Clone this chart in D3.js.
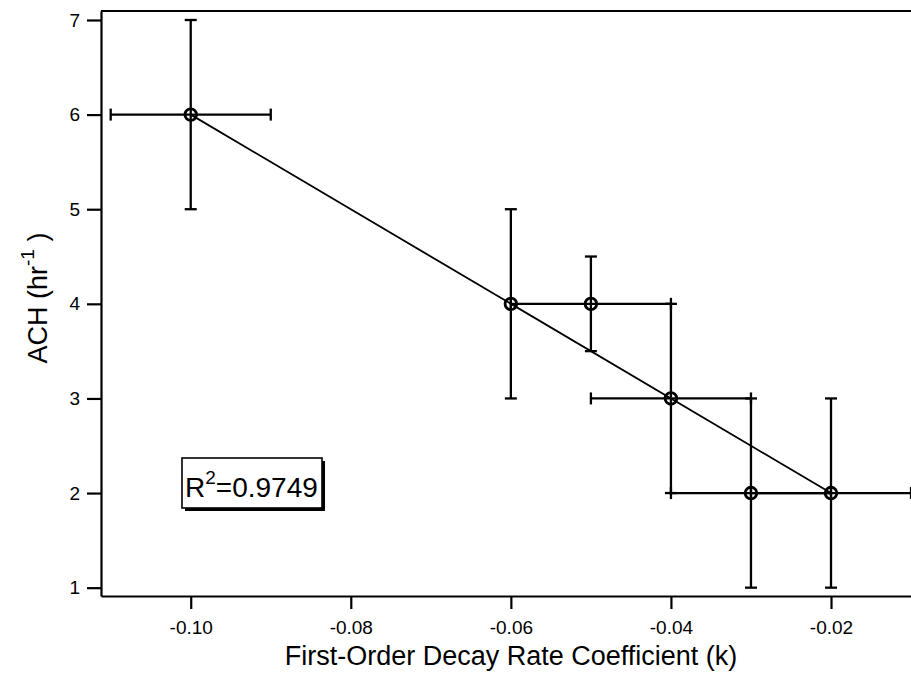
<!DOCTYPE html>
<html>
<head>
<meta charset="utf-8">
<script src="https://cdn.jsdelivr.net/npm/d3@7"></script>
<style>
  html, body { margin: 0; padding: 0; background: #fff; }
  svg { display: block; font-family: Arial, "Liberation Sans", sans-serif; }
</style>
</head>
<body>
<svg id="chart" width="911" height="675"></svg>
<script>
// ---- data ----
const kValues   = [-0.10, -0.06, -0.05, -0.04, -0.03, -0.02];
const achValues = [6, 4, 4, 3, 2, 2];
const kErrors   = [0.01, 0, 0.01, 0.01, 0.01, 0.01];
const achErrors = [1, 1, 0.5, 1, 1, 1];
const fitK      = [-0.10, -0.02];
const fitACH    = [6, 2];
const xTicks    = [-0.10, -0.08, -0.06, -0.04, -0.02];
const yTicks    = [1, 2, 3, 4, 5, 6, 7];
const r2Label   = "0.9749";
const xTitle    = "First-Order Decay Rate Coefficient (k)";

const svg = d3.select("#chart");
const pLeft = 101, pRight = 911, pTop = 11, pBottom = 596;

const x = d3.scaleLinear().domain([-0.11121, -0.010005]).range([pLeft, pRight]);
const y = d3.scaleLinear().domain([0.912, 7.095]).range([pBottom, pTop]);

// top frame line
svg.append("line")
  .attr("x1", pLeft).attr("x2", pRight + 2)
  .attr("y1", pTop).attr("y2", pTop)
  .attr("stroke", "#000").attr("stroke-width", 2.2);

// axes
const yAxis = svg.append("g")
  .attr("transform", `translate(${pLeft},0)`)
  .call(d3.axisLeft(y).tickValues(yTicks).tickFormat(d3.format("d"))
        .tickSize(14).tickSizeOuter(0).tickPadding(7));
const xAxis = svg.append("g")
  .attr("transform", `translate(0,${pBottom})`)
  .call(d3.axisBottom(x).tickValues(xTicks).tickFormat(d3.format(".2f"))
        .tickSize(13).tickSizeOuter(0).tickPadding(12));

[yAxis, xAxis].forEach(g => {
  g.select(".domain").attr("stroke", "#000").attr("stroke-width", 2.2);
  g.selectAll(".tick line").attr("stroke", "#000").attr("stroke-width", 2.2);
  g.selectAll(".tick text")
    .attr("fill", "#000")
    .style("font-size", "19px")
    .style("font-family", "Arial, 'Liberation Sans', sans-serif");
});
xAxis.selectAll(".tick text").text(d => d3.format(".2f")(d).replace("−", "-"));

// axis titles
svg.append("text")
  .attr("x", (pLeft + pRight) / 2 + 5).attr("y", 665)
  .attr("text-anchor", "middle")
  .style("font-size", "27px")
  .text(xTitle);

const yt = svg.append("text")
  .attr("transform", "translate(47,298) rotate(-90)")
  .attr("text-anchor", "middle")
  .style("font-size", "27px");
yt.append("tspan").text("ACH (hr");
yt.append("tspan").attr("dy", -13).style("font-size", "19px").text("-1");
yt.append("tspan").attr("dy", 13).text(" )");

// data
const pts = kValues.map((k, i) => ({k, a: achValues[i], ek: kErrors[i], ea: achErrors[i]}));
const cap = 6;
const eb = svg.append("g").attr("stroke", "#000").attr("stroke-width", 2.3).attr("fill", "none");

pts.forEach(p => {
  if (p.ea > 0) {
    eb.append("line").attr("x1", x(p.k)).attr("x2", x(p.k))
      .attr("y1", y(p.a - p.ea)).attr("y2", y(p.a + p.ea));
    [p.a - p.ea, p.a + p.ea].forEach(v => {
      eb.append("line").attr("x1", x(p.k) - cap).attr("x2", x(p.k) + cap)
        .attr("y1", y(v)).attr("y2", y(v));
    });
  }
  if (p.ek > 0) {
    eb.append("line").attr("x1", x(p.k - p.ek)).attr("x2", x(p.k + p.ek))
      .attr("y1", y(p.a)).attr("y2", y(p.a));
    [p.k - p.ek, p.k + p.ek].forEach(v => {
      eb.append("line").attr("x1", x(v)).attr("x2", x(v))
        .attr("y1", y(p.a) - cap).attr("y2", y(p.a) + cap);
    });
  }
});

// fit line
svg.append("path")
  .datum(fitK.map((k, i) => [k, fitACH[i]]))
  .attr("fill", "none").attr("stroke", "#000").attr("stroke-width", 1.8)
  .attr("d", d3.line().x(d => x(d[0])).y(d => y(d[1])));

// markers
svg.append("g").selectAll("circle").data(pts).join("circle")
  .attr("cx", d => x(d.k)).attr("cy", d => y(d.a)).attr("r", 5.8)
  .attr("fill", "none").attr("stroke", "#000").attr("stroke-width", 2.8);

// R^2 box
const bx = 182, by = 458, bw = 140, bh = 50;
svg.append("rect").attr("x", bx + 3).attr("y", by + 3).attr("width", bw).attr("height", bh)
  .attr("fill", "#000");
svg.append("rect").attr("x", bx).attr("y", by).attr("width", bw).attr("height", bh)
  .attr("fill", "#fff").attr("stroke", "#000").attr("stroke-width", 1.6);
const rt = svg.append("text").attr("x", bx + 3).attr("y", by + 39)
  .style("font-size", "28px");
rt.append("tspan").text("R");
rt.append("tspan").attr("dy", -13).style("font-size", "19px").text("2");
rt.append("tspan").attr("dy", 13).text("=" + r2Label);
</script>
</body>
</html>
